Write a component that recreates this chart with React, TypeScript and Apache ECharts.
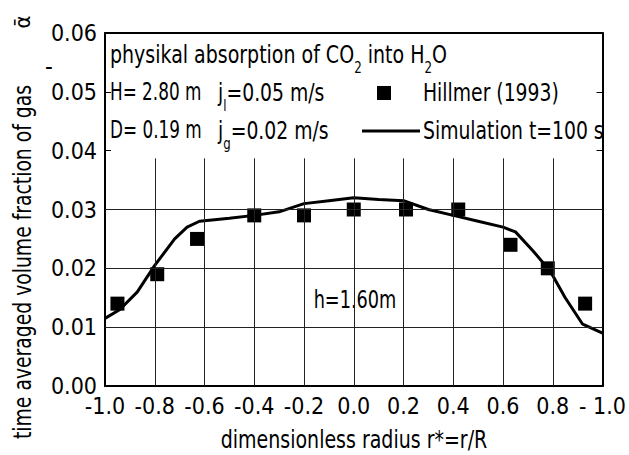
import React, { useEffect, useRef } from "react";
import * as echarts from "echarts";

const FONT = "'DejaVu Sans Condensed', 'DejaVu Sans', sans-serif";

const xTickLabels = ["-1.0", "-0.8", "-0.6", "-0.4", "-0.2", "0.0", "0.2", "0.4", "0.6", "0.8", "- 1.0"];
const gridX = [-0.8, -0.6, -0.4, -0.2, 0.0, 0.2, 0.4, 0.6, 0.8];
const gridY = [0.01, 0.02, 0.03];
const gridTopY = 0.0387;

const hillmerX = [-0.95, -0.79, -0.63, -0.4, -0.2, 0.0, 0.21, 0.42, 0.63, 0.78, 0.93];
const hillmerY = [0.014, 0.019, 0.025, 0.029, 0.029, 0.030, 0.030, 0.030, 0.024, 0.020, 0.014];

const simX = [-1.0, -0.94, -0.87, -0.8, -0.72, -0.67, -0.62, -0.5, -0.4, -0.3, -0.2, -0.1, 0.0, 0.1, 0.2, 0.3, 0.4, 0.5, 0.6, 0.65, 0.72, 0.79, 0.85, 0.92, 1.0];
const simY = [0.0115, 0.013, 0.016, 0.0205, 0.025, 0.027, 0.028, 0.0285, 0.029, 0.0296, 0.031, 0.0315, 0.032, 0.0317, 0.0315, 0.030, 0.029, 0.028, 0.027, 0.0262, 0.023, 0.0195, 0.015, 0.0105, 0.009];

export default function App() {
  const ref = useRef<HTMLDivElement>(null);
  useEffect(() => {
    if (!ref.current) return;
    const chart = echarts.init(ref.current, null, { renderer: "svg" });
    const grid: any[] = [];
    gridX.forEach((x) => grid.push([{ coord: [x, 0] }, { coord: [x, gridTopY] }]));
    gridY.forEach((y) => grid.push([{ coord: [-1, y] }, { coord: [1, y] }]));
    const FS = 24;
    const SX = 0.87;
    const baseText = { fontFamily: FONT, fontSize: FS, fill: "#000" };
    const rich = {
      m: { fontFamily: FONT, fontSize: FS, lineHeight: 26, verticalAlign: "top", color: "#000" },
      s: { fontFamily: FONT, fontSize: 15, lineHeight: 14, padding: [18, 0, 0, 0], verticalAlign: "top", color: "#000" },
    };
    const rt = (x: number, y: number, text: string, sx: number = SX) => ({
      type: "text", x, y, scaleX: sx, style: { ...baseText, text, rich },
    });
    chart.setOption({
      animation: false,
      backgroundColor: "#fff",
      grid: { left: 105, right: 24, top: 33, bottom: 69 },
      xAxis: [
        {
          type: "value", min: -1, max: 1, interval: 0.2,
          axisLine: { onZero: false, lineStyle: { color: "#000", width: 2 } },
          axisTick: { show: false },
          splitLine: { show: false },
          axisLabel: {
            color: "#000", fontFamily: FONT, fontSize: 23, margin: 8,
            formatter: (v: number) => xTickLabels[Math.round((v + 1) / 0.2)],
          },
        },
        {
          type: "value", min: -1, max: 1, position: "top",
          axisLine: { show: true, onZero: false, lineStyle: { color: "#000", width: 2 } },
          axisTick: { show: false }, axisLabel: { show: false }, splitLine: { show: false },
        },
      ],
      yAxis: [
        {
          type: "value", min: 0, max: 0.06, interval: 0.01,
          axisLine: { show: true, onZero: false, lineStyle: { color: "#000", width: 2 } },
          axisTick: { show: true, inside: true, length: 6, lineStyle: { color: "#000" } },
          splitLine: { show: false },
          axisLabel: {
            color: "#000", fontFamily: FONT, fontSize: 23, margin: 8,
            formatter: (v: number) => v.toFixed(2),
          },
        },
        {
          type: "value", min: 0, max: 0.06, interval: 0.01, position: "right",
          axisLine: { show: true, onZero: false, lineStyle: { color: "#000", width: 2 } },
          axisTick: { show: true, inside: true, length: 6, lineStyle: { color: "#000" } },
          axisLabel: { show: false }, splitLine: { show: false },
        },
      ],
      series: [
        {
          name: "Hillmer (1993)",
          type: "scatter",
          symbol: "rect",
          symbolSize: 14,
          itemStyle: { color: "#000", opacity: 1 },
          data: hillmerX.map((x, i) => [x, hillmerY[i]]),
          markLine: {
            silent: true, symbol: "none", label: { show: false },
            lineStyle: { color: "#222", width: 1, type: "solid" },
            data: grid,
          },
          z: 3,
        },
        {
          name: "Simulation t=100 s",
          type: "line",
          showSymbol: false,
          symbol: "none",
          lineStyle: { color: "#000", width: 3 },
          data: simX.map((x, i) => [x, simY[i]]),
          z: 4,
        },
      ],
      graphic: [
        {
          type: "text", x: 22, y: 262, rotation: Math.PI / 2, scaleX: SX,
          style: { ...baseText, text: "time averaged volume fraction of gas", align: "center", verticalAlign: "middle" },
        },
        {
          type: "text", x: 22, y: 22, rotation: Math.PI / 2,
          style: { ...baseText, fontSize: 22, text: "\u1FB1", align: "center", verticalAlign: "middle" },
        },
        { type: "text", x: 49, y: 67, style: { ...baseText, text: "-", align: "center", verticalAlign: "middle" } },
        {
          type: "text", x: 354, y: 440, scaleX: 0.88,
          style: { ...baseText, text: "dimensionless radius r*=r/R", align: "center", verticalAlign: "middle" },
        },
        rt(110, 42, "{m|physikal absorption of CO}{s|2}{m| into H}{s|2}{m|O}", 0.88),
        rt(110, 80, "{m|H= 2.80 m}", 0.78),
        rt(218, 80, "{m|j}{s|l}{m|=0.05 m/s}"),
        { type: "rect", shape: { x: 377, y: 86, width: 14, height: 14 }, style: { fill: "#000" } },
        rt(423, 80, "{m|Hillmer (1993)}"),
        rt(110, 118, "{m|D= 0.19 m}", 0.78),
        rt(218, 118, "{m|j}{s|g}{m|=0.02 m/s}"),
        { type: "line", shape: { x1: 362, y1: 131, x2: 420, y2: 131 }, style: { stroke: "#000", lineWidth: 3 } },
        rt(423, 118, "{m|Simulation t=100 s}"),
        {
          type: "text", x: 355, y: 300, scaleX: 0.82,
          style: { ...baseText, text: "h=1.60m", align: "center", verticalAlign: "middle" },
        },
      ],
    });
    return () => chart.dispose();
  }, []);
  return <div ref={ref} style={{ position: "fixed", left: 0, top: 0, width: 629, height: 455 }} />;
}
